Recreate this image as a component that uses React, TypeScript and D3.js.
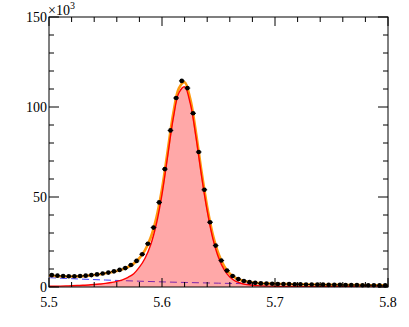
import React from "react";
import * as d3 from "d3";

const W = 409;
const H = 327;
const left = 49;
const right = 388;
const top = 17;
const bottom = 287;

// binned data (x10^3 entries), bins of 0.005 starting at 5.5
const binStart = 5.5;
const binWidth = 0.005;
const counts = [
  6.6, 6.3, 6.1, 6.0, 6.0, 6.1, 6.3, 6.6, 7.0, 7.5,
  8.0, 8.7, 9.5, 10.5, 12.2, 14.5, 18.2, 24.0, 33.0, 47.0,
  65.5, 87.0, 105.0, 114.5, 110.5, 96.5, 75.0, 54.0, 36.0, 23.0,
  14.7, 9.1, 6.1, 4.4, 3.3, 2.7, 2.3, 2.0, 1.9, 1.8,
  1.7, 1.6, 1.6, 1.5, 1.5, 1.4, 1.4, 1.3, 1.3, 1.2,
  1.2, 1.2, 1.1, 1.1, 1.1, 1.0, 1.0, 1.0, 0.9, 0.9,
];

// fit curves sampled every 0.005 from 5.5 to 5.8
const fitTotal = [
  6.3, 6.1, 5.95, 5.85, 5.85, 5.9, 6.05, 6.3, 6.65, 7.1,
  7.6, 8.2, 8.9, 9.8, 11.1, 13.0, 16.0, 20.5, 27.5, 38.5,
  54.5, 75.5, 96.5, 110.5, 113.8, 104.5, 86.0, 64.0, 44.5, 29.0,
  18.5, 11.6, 7.4, 5.1, 3.8, 3.0, 2.5, 2.15, 1.95, 1.85,
  1.75, 1.65, 1.6, 1.55, 1.5, 1.45, 1.4, 1.35, 1.3, 1.25,
  1.2, 1.18, 1.15, 1.1, 1.07, 1.04, 1.0, 0.97, 0.94, 0.91, 0.88,
];
const fitSignal = [
  0.4, 0.45, 0.5, 0.6, 0.7, 0.8, 0.95, 1.1, 1.35, 1.65,
  2.0, 2.5, 3.1, 4.0, 5.4, 7.4, 11.0, 16.0, 23.5, 35.0,
  51.5, 72.6, 93.8, 107.9, 111.2, 102.0, 83.6, 61.7, 42.3, 26.9,
  16.4, 9.6, 5.5, 3.3, 2.1, 1.4, 1.0, 0.75, 0.6, 0.5,
  0.42, 0.36, 0.31, 0.27, 0.24, 0.21, 0.19, 0.17, 0.15, 0.14,
  0.13, 0.12, 0.11, 0.1, 0.1, 0.09, 0.09, 0.08, 0.08, 0.07, 0.07,
];
const fitStep = 0.005;

// background, sampled every 0.025
const bkgX = [5.5, 5.525, 5.55, 5.575, 5.6, 5.625, 5.65, 5.675, 5.7, 5.725, 5.75, 5.775, 5.8];
const bkgY = [5.2, 4.5, 3.87, 3.33, 2.85, 2.46, 2.12, 1.82, 1.57, 1.35, 1.16, 1.0, 0.86];

const xMajor = [5.5, 5.6, 5.7, 5.8];
const xTickLabels = ["5.5", "5.6", "5.7", "5.8"];
const yMajor = [0, 50, 100, 150];
const yTickLabels = ["0", "50", "100", "150"];

const font = "'Liberation Serif', 'Times New Roman', serif";

export default function App() {
  const x = d3.scaleLinear().domain([5.5, 5.8]).range([left, right]);
  const y = d3.scaleLinear().domain([0, 150]).range([bottom, top]);

  const fitPts = fitTotal.map((v, k) => [5.5 + k * fitStep, v] as [number, number]);
  const sigPts = fitSignal.map((v, k) => [5.5 + k * fitStep, v] as [number, number]);
  const bkgPts = bkgX.map((v, k) => [v, bkgY[k]] as [number, number]);

  const line = d3
    .line<[number, number]>()
    .x((d) => x(d[0]))
    .y((d) => y(d[1]))
    .curve(d3.curveCatmullRom);
  const area = d3
    .area<[number, number]>()
    .x((d) => x(d[0]))
    .y0(y(0))
    .y1((d) => y(d[1]))
    .curve(d3.curveCatmullRom);

  const xMinor = d3.ticks(5.5, 5.8, 15);
  const yMinor = d3.ticks(0, 150, 15);
  const major = 9;
  const minor = 5;

  return (
    <div style={{ position: "absolute", left: 0, top: 0 }}>
      <svg width={W} height={H} style={{ display: "block", background: "#fff" }}>
        <defs>
          <clipPath id="plot">
            <rect x={left} y={top} width={right - left} height={bottom - top} />
          </clipPath>
        </defs>
        <g clipPath="url(#plot)">
          <path
            d={line(bkgPts) || ""}
            fill="none"
            stroke="#3b3bff"
            strokeWidth={1}
            strokeDasharray="7,4"
          />
          <path d={area(sigPts) || ""} fill="#ff0000" fillOpacity={0.34} />
          <path d={line(fitPts) || ""} fill="none" stroke="#ff9a10" strokeWidth={2.6} />
          <path d={line(sigPts) || ""} fill="none" stroke="#ff0000" strokeWidth={1.4} />
        </g>
        <g>
          {counts.map((v, i) => {
            const cx = binStart + (i + 0.5) * binWidth;
            return (
              <g key={i}>
                <line
                  x1={x(cx - binWidth / 2)}
                  x2={x(cx + binWidth / 2)}
                  y1={y(v)}
                  y2={y(v)}
                  stroke="#000"
                  strokeWidth={1}
                />
                <circle cx={x(cx)} cy={y(v)} r={2.3} fill="#000" />
              </g>
            );
          })}
        </g>
        {/* frame */}
        <rect x={left} y={top} width={right - left} height={bottom - top} fill="none" stroke="#000" strokeWidth={1} />
        {/* ticks on all four sides, pointing inward */}
        {xMinor.map((t, i) => {
          const len = xMajor.some((m) => Math.abs(m - t) < 1e-9) ? major : minor;
          return (
            <g key={"xt" + i} stroke="#000" strokeWidth={1}>
              <line x1={x(t)} x2={x(t)} y1={bottom} y2={bottom - len} />
              <line x1={x(t)} x2={x(t)} y1={top} y2={top + len} />
            </g>
          );
        })}
        {yMinor.map((t, i) => {
          const len = yMajor.includes(t) ? major + 1 : minor;
          return (
            <g key={"yt" + i} stroke="#000" strokeWidth={1}>
              <line x1={left} x2={left + len} y1={y(t)} y2={y(t)} />
              <line x1={right} x2={right - len} y1={y(t)} y2={y(t)} />
            </g>
          );
        })}
        {xMajor.map((t, i) => (
          <text key={"xl" + i} x={x(t)} y={307} textAnchor="middle" fontFamily={font} fontSize={14} fill="#000">
            {xTickLabels[i]}
          </text>
        ))}
        {yMajor.map((t, i) => (
          <text key={"yl" + i} x={47} y={y(t)} textAnchor="end" dominantBaseline="central" fontFamily={font} fontSize={14} fill="#000">
            {yTickLabels[i]}
          </text>
        ))}
        <text x={48} y={15} fontFamily={font} fontSize={14} fill="#000">
          ×10
          <tspan fontSize={10} dy={-6}>3</tspan>
        </text>
      </svg>
    </div>
  );
}
